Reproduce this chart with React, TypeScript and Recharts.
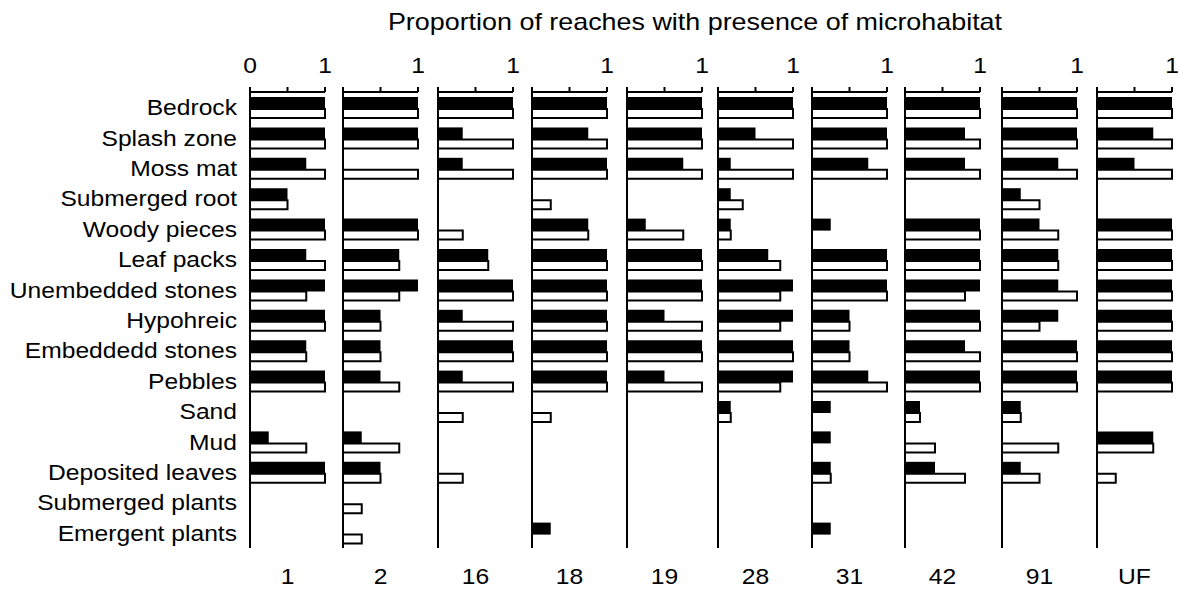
import { BarChart, Bar, XAxis, YAxis } from "recharts";

const habitats = [
  "Bedrock",
  "Splash zone",
  "Moss mat",
  "Submerged root",
  "Woody pieces",
  "Leaf packs",
  "Unembedded stones",
  "Hypohreic",
  "Embeddedd stones",
  "Pebbles",
  "Sand",
  "Mud",
  "Deposited leaves",
  "Submerged plants",
  "Emergent plants",
];

const sites = ["1", "2", "16", "18", "19", "28", "31", "42", "91", "UF"];

// black bars, one row per site, values in habitat order
const filledBars = [
  [1, 1, 0.75, 0.5, 1, 0.75, 1, 1, 0.75, 1, 0, 0.25, 1, 0, 0],
  [1, 1, 0, 0, 1, 0.75, 1, 0.5, 0.5, 0.5, 0, 0.25, 0.5, 0, 0],
  [1, 0.33, 0.33, 0, 0, 0.67, 1, 0.33, 1, 0.33, 0, 0, 0, 0, 0],
  [1, 0.75, 1, 0, 0.75, 1, 1, 1, 1, 1, 0, 0, 0, 0, 0.25],
  [1, 1, 0.75, 0, 0.25, 1, 1, 0.5, 1, 0.5, 0, 0, 0, 0, 0],
  [1, 0.5, 0.17, 0.17, 0.17, 0.67, 1, 1, 1, 1, 0.17, 0, 0, 0, 0],
  [1, 1, 0.75, 0, 0.25, 1, 1, 0.5, 0.5, 0.75, 0.25, 0.25, 0.25, 0, 0.25],
  [1, 0.8, 0.8, 0, 1, 1, 1, 1, 0.8, 1, 0.2, 0, 0.4, 0, 0],
  [1, 1, 0.75, 0.25, 0.5, 0.75, 0.75, 0.75, 1, 1, 0.25, 0, 0.25, 0, 0],
  [1, 0.75, 0.5, 0, 1, 1, 1, 1, 1, 1, 0, 0.75, 0, 0, 0],
];

// white bars, same layout
const openBars = [
  [1, 1, 1, 0.5, 1, 1, 0.75, 1, 0.75, 1, 0, 0.75, 1, 0, 0],
  [1, 1, 1, 0, 1, 0.75, 0.75, 0.5, 0.5, 0.75, 0, 0.75, 0.5, 0.25, 0.25],
  [1, 1, 1, 0, 0.33, 0.67, 1, 1, 1, 1, 0.33, 0, 0.33, 0, 0],
  [1, 1, 1, 0.25, 0.75, 1, 1, 1, 1, 1, 0.25, 0, 0, 0, 0],
  [1, 1, 1, 0, 0.75, 1, 1, 1, 1, 1, 0, 0, 0, 0, 0],
  [1, 1, 1, 0.33, 0.17, 0.83, 0.83, 0.83, 1, 0.83, 0.17, 0, 0, 0, 0],
  [1, 1, 1, 0, 0, 1, 1, 0.5, 0.5, 1, 0, 0, 0.25, 0, 0],
  [1, 1, 1, 0, 1, 1, 0.8, 1, 1, 1, 0.2, 0.4, 0.8, 0, 0],
  [1, 1, 1, 0.5, 0.75, 0.75, 1, 0.5, 1, 1, 0.25, 0.75, 0.5, 0, 0],
  [1, 1, 1, 0, 1, 1, 1, 1, 1, 1, 0, 0.75, 0.25, 0, 0],
];

const xTicks = [0, 0.5, 1];

const FONT = '"Liberation Sans", Arial, sans-serif';
const FS = 22;
const STRETCH = 1.12; // the original text is a bit wide
const panelLeft = [250, 343, 438, 532, 627, 718, 812, 905, 1002, 1097];
const PANEL_W = 75;
const CHART_TOP = 40;
const AXIS_H = 52;
const PLOT_H = 456;

function HabitatTick(props: any) {
  const { x, y, payload } = props;
  return (
    <g transform={`translate(${x},${y})`}>
      <text
        transform={`scale(${STRETCH},1)`}
        textAnchor="end"
        dy="0.36em"
        fontSize={FS}
        fontFamily={FONT}
        fill="#000"
      >
        {payload.value}
      </text>
    </g>
  );
}

function makeValueTick(first: boolean) {
  return (props: any) => {
    const { x, y, payload } = props;
    const v = payload.value;
    const label = v === 1 ? "1" : first && v === 0 ? "0" : "";
    if (!label) return <g />;
    return (
      <g transform={`translate(${x},${y})`}>
        <text
          transform={`scale(${STRETCH},1)`}
          textAnchor="middle"
          fontSize={FS}
          fontFamily={FONT}
          fill="#000"
        >
          {label}
        </text>
      </g>
    );
  };
}

function Panel({ index }: { index: number }) {
  const first = index === 0;
  const yw = first ? 250 : 20;
  const left = panelLeft[index] - yw;
  const rows = habitats.map((h, k) => ({
    habitat: h,
    filled: filledBars[index][k],
    open: openBars[index][k],
  }));

  return (
    <div style={{ position: "absolute", left, top: CHART_TOP }}>
      <BarChart
        layout="vertical"
        width={yw + PANEL_W + 12}
        height={AXIS_H + PLOT_H + 5}
        data={rows}
        margin={{ top: 0, right: 12, bottom: 5, left: 0 }}
        barGap={0}
      >
        <XAxis
          type="number"
          orientation="top"
          domain={[0, 1]}
          ticks={xTicks}
          interval={0}
          height={AXIS_H}
          tickSize={5}
          tickMargin={14}
          axisLine={{ stroke: "#000", strokeWidth: 2 }}
          tickLine={{ stroke: "#000", strokeWidth: 2 }}
          tick={makeValueTick(first)}
        />
        <YAxis
          type="category"
          dataKey="habitat"
          width={yw}
          interval={0}
          tick={first ? <HabitatTick /> : false}
          tickLine={false}
          tickSize={6}
          tickMargin={7}
          axisLine={{ stroke: "#000", strokeWidth: 2 }}
        />
        <Bar
          dataKey="filled"
          fill="#000"
          barSize={12}
          isAnimationActive={false}
        />
        <Bar
          dataKey="open"
          fill="#fff"
          stroke="#000"
          strokeWidth={2}
          barSize={9}
          isAnimationActive={false}
        />
      </BarChart>
      <div
        style={{
          position: "absolute",
          left: yw,
          width: PANEL_W,
          top: 577 - CHART_TOP - 13,
          lineHeight: "26px",
          textAlign: "center",
          fontSize: FS,
          fontFamily: FONT,
          color: "#000",
          transform: `scaleX(${STRETCH})`,
        }}
      >
        {sites[index]}
      </div>
    </div>
  );
}

export default function App() {
  return (
    <div
      style={{
        position: "absolute",
        left: 0,
        top: 0,
        width: 1178,
        height: 597,
        background: "#fff",
      }}
    >
      <div
        style={{
          position: "absolute",
          left: 345,
          width: 700,
          top: 9,
          lineHeight: "26px",
          textAlign: "center",
          fontSize: 24,
          fontFamily: FONT,
          color: "#000",
          whiteSpace: "nowrap",
          transform: `scaleX(${STRETCH})`,
        }}
      >
        Proportion of reaches with presence of microhabitat
      </div>
      {sites.map((s, i) => (
        <Panel key={s} index={i} />
      ))}
    </div>
  );
}
